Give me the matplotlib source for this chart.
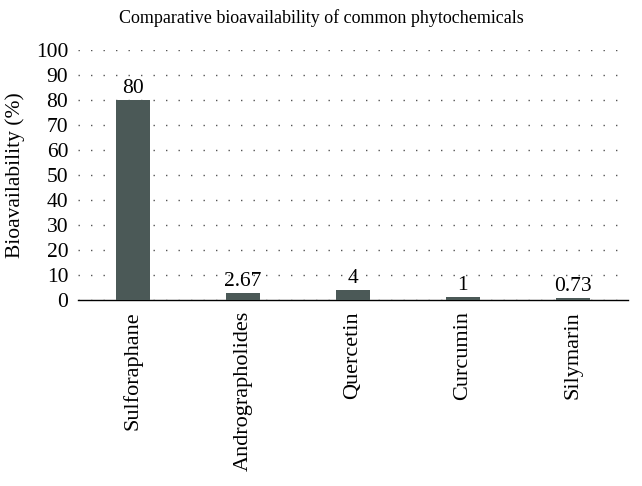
import matplotlib

matplotlib.use("Agg")
import matplotlib.pyplot as plt

categories = ["Sulforaphane", "Andrographolides", "Quercetin", "Curcumin", "Silymarin"]
values = [80, 2.67, 4, 1, 0.73]
value_labels = ["80", "2.67", "4", "1", "0.73"]
yticks = [0, 10, 20, 30, 40, 50, 60, 70, 80, 90, 100]

plt.rcParams["font.family"] = ["Liberation Serif", "DejaVu Serif"]

fig = plt.figure(figsize=(6.42, 4.86), dpi=100)
ax = fig.add_axes([0.1215, 0.383, 0.8565, 0.514])

x = range(len(categories))
ax.bar(x, values, width=0.31, color="#4b5957", zorder=3)
for xi, v, lab in zip(x, values, value_labels):
    ax.text(xi, v + 0.8, lab, ha="center", va="bottom", fontsize=15.5)

ax.set_xlim(-0.5, len(categories) - 0.5)
ax.set_ylim(0, 100)
ax.set_yticks(yticks)
ax.set_yticklabels([str(t) for t in yticks], fontsize=15.5)
ax.set_xticks(list(x))
ax.set_xticklabels(categories, rotation=90, fontsize=16)
ax.tick_params(axis="y", length=0, pad=7)
ax.tick_params(axis="x", length=0, pad=8)
ax.yaxis.grid(True, linestyle=(0, (1, 8)), color="#555555", linewidth=1.0)
ax.set_axisbelow(True)
for side in ("top", "right", "left"):
    ax.spines[side].set_visible(False)
ax.spines["bottom"].set_linewidth(1.0)
ax.set_ylabel("Bioavailability (%)", fontsize=15.5)
ax.yaxis.set_label_coords(-0.096, 0.5)
fig.text(0.5, 0.962, "Comparative bioavailability of common phytochemicals",
         ha="center", va="center", fontsize=13)

fig.savefig("out.png", dpi=100)
